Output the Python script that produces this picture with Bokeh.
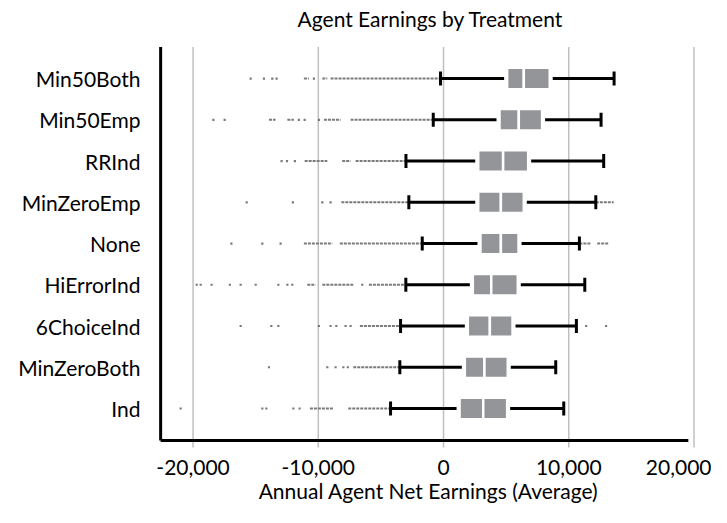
from bokeh.plotting import figure
from bokeh.models import Range1d, FixedTicker, ColumnDataSource
from bokeh.core.properties import value
from bokeh.embed import file_html
from bokeh.resources import INLINE

# Categories listed bottom to top
categories = ["Ind", "MinZeroBoth", "6ChoiceInd", "HiErrorInd", "None",
              "MinZeroEmp", "RRInd", "Min50Emp", "Min50Both"]

whisker_lo = [-4230, -3490, -3430, -3010, -1700, -2770, -3000, -820, -240]
q1 = [1280, 1700, 1940, 2340, 2950, 2770, 2770, 4470, 5080]
median = [3170, 3270, 3700, 3810, 4580, 4580, 4760, 6010, 6410]
q3 = [5080, 5130, 5510, 5930, 5990, 6410, 6760, 7870, 8480]
whisker_hi = [9600, 8960, 10610, 11280, 10850, 12160, 12790, 12580, 13620]

# isolated outliers (per category)
outliers = [
    [-20990, -14470, -14150, -11990, -11490],
    [-13940, -9280, -8620, -8000, -7640],
    [-16200, -13750, -13190, -9950, -9020, -8560, -7820, -7420, 11390, 12980],
    [-19710, -19390, -18520, -17060, -16200, -15000, -13190, -12470, -12080, -6490],
    [-16940, -14470, -13010],
    [-15720, -12030, -9680, -9020],
    [-12930, -12500, -11870],
    [-18380, -17480, -11550, -11090, -9950],
    [-15400, -14340, -13670, -13330, -10350],
]

# runs of densely packed outliers (start, end) per category
dense_runs = [
    [(-10670, -8800), (-7610, -4230)],
    [(-7210, -3490)],
    [(-6680, -3430)],
    [(-10880, -10220), (-9680, -7160), (-5960, -3010)],
    [(-11150, -8880), (-8280, -1700), (10850, 11810), (12270, 13190)],
    [(-8160, -2770), (12160, 13590)],
    [(-11090, -9280), (-8090, -7420), (-7020, -3000)],
    [(-13940, -13410), (-12470, -11950), (-9550, -8220), (-7420, -820)],
    [(-11150, -10750), (-9680, -9280), (-9020, -240)],
]

x_ticks = [-20000, -10000, 0, 10000, 20000]
x_tick_labels = ["-20,000", "-10,000", "0", "10,000", "20,000"]
title_text = "Agent Earnings by Treatment"

FONT = "Lato"
BOX = "#939598"
OUT = "#7a7a7a"
GRID = "#c0c0c0"

ypos = list(range(len(categories)))

# plot-area extents (data units)
X_LO, X_HI = -23000, 20600
Y_LO, Y_HI = -1.043, 9.893
AX_X0, AX_X1 = -22590, 19550      # axis line extent
AX_Y = -0.776                     # bottom axis line
G_LO, G_HI = -0.946, 8.766        # gridline extent
TITLE_X, TITLE_Y = -1040, 9.457

p = figure(width=711, height=507, x_range=Range1d(X_LO, X_HI),
           y_range=Range1d(Y_LO, Y_HI), output_backend="svg",
           toolbar_location=None, min_border_left=155, min_border_right=10,
           min_border_top=0, min_border_bottom=56, title=None)
p.outline_line_color = None
p.background_fill_color = "white"

# axes
xa = p.xaxis[0]
xa.ticker = FixedTicker(ticks=x_ticks)
xa.major_label_overrides = {t: l for t, l in zip(x_ticks, x_tick_labels)}
xa.axis_line_color = None
xa.major_tick_line_color = None
xa.minor_tick_line_color = None
xa.major_tick_in = 0
xa.major_tick_out = 0
xa.minor_tick_in = 0
xa.minor_tick_out = 0
xa.major_label_text_font = FONT
xa.major_label_text_font_size = "21px"
xa.major_label_text_color = "black"
xa.major_label_standoff = 8
xa.axis_label = "Annual Agent Net Earnings (Average)"
xa.axis_label_text_font = FONT
xa.axis_label_text_font_size = "21px"
xa.axis_label_text_font_style = "normal"
xa.axis_label_text_color = "black"
xa.axis_label_standoff = 0

ya = p.yaxis[0]
ya.ticker = FixedTicker(ticks=ypos)
ya.major_label_overrides = {i: c for i, c in zip(ypos, categories)}
ya.axis_line_color = None
ya.major_tick_line_color = None
ya.minor_tick_line_color = None
ya.major_tick_in = 0
ya.major_tick_out = 0
ya.major_label_text_font = FONT
ya.major_label_text_font_size = "21px"
ya.major_label_text_color = "black"
ya.major_label_standoff = 15

p.xgrid.grid_line_color = None
p.ygrid.grid_line_color = None

# vertical gridlines at the tick positions
p.segment(x0=x_ticks, y0=[G_LO] * len(x_ticks), x1=x_ticks, y1=[G_HI] * len(x_ticks),
          line_color=GRID, line_width=1.5)

# title
p.text(x=[TITLE_X], y=[TITLE_Y], text=[title_text], text_align="center",
       text_baseline="middle", text_font=value(FONT), text_font_size="21px",
       text_color="black")

# outliers: dense runs
rx0, rx1, ry = [], [], []
for i, runs in enumerate(dense_runs):
    for a, b in runs:
        rx0.append(a); rx1.append(b); ry.append(ypos[i])
p.segment(x0=rx0, y0=ry, x1=rx1, y1=ry, line_color=OUT, line_width=2,
          line_dash="3 1")

ox, oy = [], []
for i, pts in enumerate(outliers):
    for v in pts:
        ox.append(v); oy.append(ypos[i])
p.scatter(ox, oy, marker="square", size=2.2, fill_color=OUT, line_color=None)

# whiskers
src = ColumnDataSource(dict(y=ypos, lo=whisker_lo, q1=q1, med=median, q3=q3, hi=whisker_hi))
p.segment(x0="lo", y0="y", x1="q1", y1="y", source=src, line_color="black", line_width=3)
p.segment(x0="q3", y0="y", x1="hi", y1="y", source=src, line_color="black", line_width=3)
cap = 0.17
ylo = [y - cap for y in ypos]
yhi = [y + cap for y in ypos]
p.segment(x0=whisker_lo, y0=ylo, x1=whisker_lo, y1=yhi, line_color="black", line_width=3)
p.segment(x0=whisker_hi, y0=ylo, x1=whisker_hi, y1=yhi, line_color="black", line_width=3)

# white mask giving the gap between whiskers and box
p.hbar(y="y", left="q1", right="q3", height=0.2, source=src, fill_color="white",
       line_color="white", line_width=6)
# boxes
p.hbar(y="y", left="q1", right="med", height=0.52, source=src, fill_color=BOX,
       line_color="white", line_width=2.5)
p.hbar(y="y", left="med", right="q3", height=0.52, source=src, fill_color=BOX,
       line_color="white", line_width=2.5)

# axis lines (L-shape)
p.segment(x0=[AX_X0, AX_X0], y0=[AX_Y, AX_Y], x1=[AX_X1, AX_X0], y1=[AX_Y, G_HI],
          line_color="black", line_width=3)

open("out.html", "w").write(file_html(p, INLINE))
